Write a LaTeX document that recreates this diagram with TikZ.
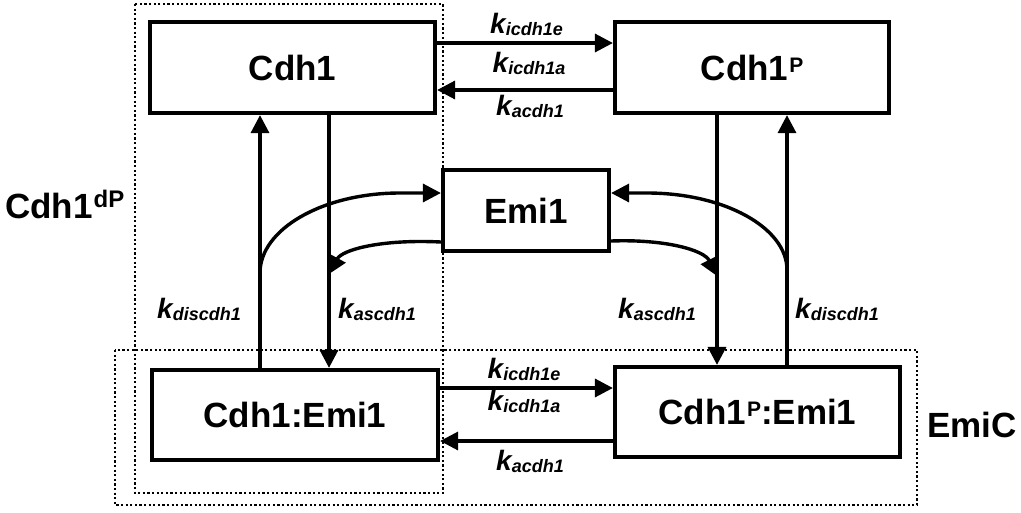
\documentclass[tikz,border=0pt]{standalone}
\usepackage{fontspec}
\setmainfont{Liberation Sans}
\usetikzlibrary{arrows.meta}
\newcommand\kr[1]{{\fontsize{28}{28}\selectfont\bfseries\itshape k}\raisebox{-2.5pt}{\fontsize{18}{18}\selectfont\bfseries\itshape #1}}
\newcommand\boxsup[1]{\kern1pt\raisebox{8pt}{\fontsize{21}{21}\selectfont\bfseries #1}}
\newcommand\labsup[1]{\kern1pt\raisebox{11pt}{\fontsize{24}{24}\selectfont\bfseries #1}}
\tikzset{
  species/.style={draw, line width=4.2pt, rectangle, inner sep=0pt, font=\fontsize{35}{35}\selectfont\bfseries},
  arr/.style={line width=3.4pt, -{Triangle[length=18pt,width=18pt]}},
  grp/.style={line width=2.4pt, dash pattern=on 2.2pt off 2.4pt},
  rate/.style={inner sep=0pt},
  grplab/.style={inner sep=0pt, anchor=base west, font=\fontsize{35}{35}\selectfont\bfseries}
}
\begin{document}
\begin{tikzpicture}[x=1pt,y=-1pt]
\useasboundingbox (0,0) rectangle (1021,512);
% group outlines
\draw[grp] (135,4) rectangle (443,493);
\draw[grp] (115,350) rectangle (917,505);
% species
\node[species, minimum width=285pt, minimum height=91pt] (cdh1) at (292.5,67.5) {Cdh1};
\node[species, minimum width=274pt, minimum height=91pt] (cdh1p) at (752,67.5) {Cdh1\boxsup{P}};
\node[species, minimum width=166pt, minimum height=81pt] (emi) at (526,210.5) {Emi1};
\node[species, minimum width=286pt, minimum height=90pt] (cemi) at (295,415) {Cdh1:Emi1};
\node[species, minimum width=285pt, minimum height=90pt] (cpemi) at (757.5,412) {Cdh1\boxsup{P}:Emi1};
% group labels
\node[grplab] (lab1) at (5,218) {Cdh1\labsup{dP}};
\node[grplab] (lab2) at (927,437) {EmiC};
% horizontal arrows
\draw[arr] (cdh1.east |- 0,43) -- (cdh1p.west |- 0,43);
\draw[arr] (cdh1p.west |- 0,90) -- (cdh1.east |- 0,90);
\draw[arr] (cemi.east |- 0,388) -- (cpemi.west |- 0,388);
\draw[arr] (cpemi.west |- 0,441) -- (cemi.east |- 0,441);
% vertical arrows
\draw[arr] (cemi.north -| 260,0) -- (cdh1.south -| 260,0);
\draw[arr] (cdh1.south -| 329,0) -- (cemi.north -| 329,0);
\draw[arr] (cdh1p.south -| 717,0) -- (cpemi.north -| 717,0);
\draw[arr] (cpemi.north -| 787,0) -- (cdh1p.south -| 787,0);
% curved arrows
\coordinate (lj) at (260,273);
\coordinate (ld) at (329,274);
\coordinate (rj) at (787,270);
\coordinate (rd) at (717,276);
\draw[arr] (lj) .. controls (260,229) and (323,193) .. (400,193) -- (emi.west |- 0,193);
\draw[arr] (emi.west |- 0,242) .. controls (380,239) and (342,250) .. (ld);
\draw[arr] (rj) .. controls (787,227.5) and (724,193) .. (647,193) -- (emi.east |- 0,193);
\draw[arr] (emi.east |- 0,241) .. controls (665,239) and (704,250) .. (rd);
% rate labels
\node[rate, anchor=base] (r1) at (526.5,33) {\kr{icdh1e}};
\node[rate, anchor=base] (r2) at (529,72) {\kr{icdh1a}};
\node[rate, anchor=base] (r3) at (530,115) {\kr{acdh1}};
\node[rate, anchor=base] (r4) at (524,378) {\kr{icdh1e}};
\node[rate, anchor=base] (r5) at (524,410) {\kr{icdh1a}};
\node[rate, anchor=base] (r6) at (530,470) {\kr{acdh1}};
\node[rate, anchor=base west] (r7) at (157,318) {\kr{discdh1}};
\node[rate, anchor=base west] (r8) at (338,318) {\kr{ascdh1}};
\node[rate, anchor=base west] (r9) at (618,318) {\kr{ascdh1}};
\node[rate, anchor=base west] (r10) at (795,318) {\kr{discdh1}};
\end{tikzpicture}
\end{document}
